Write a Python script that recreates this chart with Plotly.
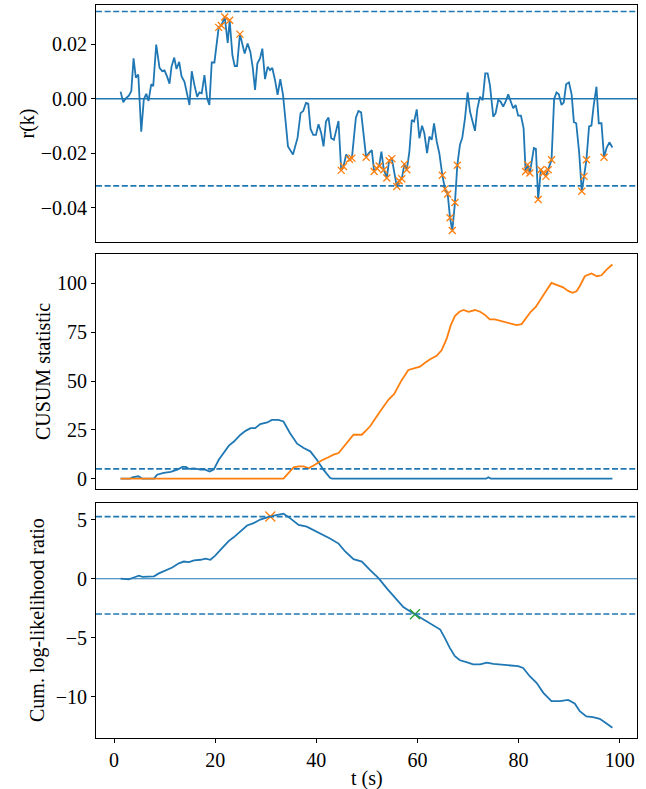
import plotly.graph_objects as go

# ---- residual autocorrelation r(k) ----
t_r = [1.28, 1.82, 2.27, 2.92, 3.40, 3.85, 4.30, 4.78, 5.37, 5.88,
       6.36, 6.81, 7.34, 7.74, 8.33, 8.98, 9.52, 9.97, 10.50, 10.96,
       11.35, 11.89, 12.34, 12.87, 13.33, 13.92, 14.91, 15.36, 15.89, 16.43,
       16.88, 17.33, 17.87, 18.40, 18.85, 19.31, 19.84, 20.69, 21.22, 21.88,
       22.47, 22.86, 23.40, 23.85, 24.32, 24.88, 25.82, 26.41, 26.95, 27.40,
       27.88, 28.33, 28.86, 29.32, 29.85, 30.37, 30.84, 31.29, 31.83, 32.34,
       32.87, 33.41, 33.86, 34.39, 35.38, 36.29, 36.88, 37.41, 37.95, 38.40,
       38.85, 39.39, 39.92, 40.43, 40.97, 41.42, 41.90, 42.41, 42.94, 43.47,
       44.38, 44.92, 45.37, 45.90, 46.55, 47.03, 47.82, 48.33, 48.86, 49.36,
       49.85, 50.38, 50.97, 51.43, 51.97, 52.42, 52.87, 53.35, 53.94, 54.39,
       54.93, 55.91, 56.37, 56.90, 57.41, 57.89, 58.40, 58.87, 59.33, 59.86,
       60.37, 60.91, 61.36, 61.90, 62.35, 62.82, 63.28, 63.81, 64.32, 64.92,
       65.45, 65.98, 66.44, 66.89, 67.42, 67.88, 68.41, 68.87, 69.40, 69.93,
       70.39, 70.92, 71.37, 71.83, 72.36, 72.89, 73.41, 73.88, 74.33, 74.99,
       75.46, 75.97, 76.45, 76.96, 77.43, 77.95, 78.42, 78.93, 79.41, 79.92,
       80.46, 80.99, 81.39, 81.78, 82.23, 83.02, 83.42, 83.87, 84.40, 84.86,
       85.39, 85.84, 86.52, 87.03, 87.50, 87.96, 88.49, 88.94, 89.40, 89.96,
       90.49, 90.94, 91.40, 91.97, 92.50, 92.95, 93.42, 93.94, 94.41, 94.87,
       95.40, 95.86, 96.39, 96.90, 97.43, 97.96, 98.56]

r_k = [0.0026, -0.0013, 0.0000, 0.0011, 0.0028, 0.0148, 0.0077, 0.0089, -0.0121, -0.0002,
       0.0018, -0.0008, 0.0053, 0.0046, 0.0199, 0.0113, 0.0101, 0.0104, 0.0080, 0.0055,
       0.0117, 0.0151, 0.0109, 0.0135, 0.0083, 0.0062, -0.0023, 0.0101, 0.0050, 0.0007,
       0.0023, 0.0020, 0.0087, 0.0001, -0.0023, 0.0133, 0.0133, 0.0262, 0.0269, 0.0300,
       0.0205, 0.0288, 0.0160, 0.0120, 0.0120, 0.0237, 0.0166, 0.0203, 0.0172, 0.0117,
       0.0032, 0.0129, 0.0148, 0.0184, 0.0072, 0.0117, 0.0105, 0.0113, 0.0068, 0.0014,
       0.0072, 0.0014, -0.0072, -0.0175, -0.0205, -0.0143, -0.0053, -0.0045, -0.0015, -0.0018,
       -0.0111, -0.0133, -0.0133, -0.0094, -0.0127, -0.0175, -0.0084, -0.0069, -0.0145, -0.0151,
       -0.0082, -0.0263, -0.0249, -0.0205, -0.0222, -0.0218, -0.0070, -0.0045, -0.0050, -0.0140,
       -0.0215, -0.0200, -0.0189, -0.0267, -0.0255, -0.0247, -0.0194, -0.0261, -0.0291, -0.0228,
       -0.0220, -0.0322, -0.0301, -0.0294, -0.0240, -0.0261, -0.0194, -0.0078, -0.0084, -0.0039,
       -0.0145, -0.0099, -0.0127, -0.0200, -0.0139, -0.0151, -0.0091, -0.0157, -0.0200, -0.0281,
       -0.0331, -0.0350, -0.0437, -0.0484, -0.0381, -0.0244, -0.0169, -0.0143, -0.0072, 0.0023,
       -0.0047, -0.0084, -0.0118, -0.0038, 0.0007, -0.0005, 0.0093, 0.0093, 0.0050, -0.0066,
       -0.0053, -0.0005, -0.0011, -0.0029, -0.0011, 0.0016, -0.0011, -0.0035, -0.0023, -0.0062,
       -0.0062, -0.0108, -0.0267, -0.0242, -0.0273, -0.0181, -0.0184, -0.0370, -0.0261, -0.0273,
       -0.0285, -0.0261, -0.0224, -0.0001, 0.0023, 0.0016, -0.0023, -0.0013, 0.0053, 0.0060,
       0.0016, -0.0086, -0.0090, -0.0195, -0.0340, -0.0285, -0.0224, -0.0102, -0.0099, -0.0023,
       0.0044, -0.0090, -0.0090, -0.0215, -0.0179, -0.0160, -0.0179]

R_BOUND = 0.032        # confidence bound for r(k)
R_FLAG = 0.021         # |r(k)| above this is flagged

# ---- two-sided CUSUM ----
t_cusum_pos = [1.28, 3.2, 3.6, 4.8, 5.6, 7.9, 8.5, 9.8, 11.2, 12.5,
               13.5, 14.2, 14.8, 15.8, 17.1, 18.0, 18.9, 19.7, 20.7, 21.7,
               22.7, 23.7, 25.0, 26.0, 27.0, 27.9, 28.9, 30.3, 31.2, 32.5,
               33.5, 34.8, 36.2, 37.5, 38.8, 40.1, 41.4, 42.7, 43.1, 73.6,
               74.0, 74.5, 98.56]
cusum_pos = [0, 0, 0.7, 1.2, 0, 0, 2.0, 3.0, 3.5, 4.6,
             6.0, 6.0, 5.0, 5.3, 4.6, 4.6, 3.6, 4.6, 9.7, 13.4,
             16.9, 19.0, 22.5, 24.5, 25.9, 25.9, 28.0, 28.8, 30.1, 30.1,
             29.3, 23.3, 17.9, 15.7, 14.0, 9.7, 4.6, 0.4, 0, 0,
             0.7, 0, 0]

t_cusum_neg = [1.28, 33.5, 35.5, 36.5, 37.5, 38.5, 39.8, 41.1, 42.4, 43.4,
               44.4, 45.7, 47.35, 49.0, 50.6, 52.6, 54.25, 55.4, 56.9, 58.2,
               59.5, 60.5, 61.5, 62.5, 63.8, 64.8, 65.8, 66.6, 67.4, 68.3,
               69.1, 70.1, 71.4, 72.4, 73.4, 74.3, 75.3, 76.6, 77.6, 78.6,
               79.6, 80.6, 81.4, 82.4, 83.4, 84.3, 85.4, 86.5, 87.6, 88.8,
               89.8, 90.7, 91.5, 92.2, 93.1, 94.4, 95.5, 96.4, 97.4, 98.56]
cusum_neg = [0, 0, 5.8, 6.3, 6.3, 5.3, 7.2, 9.4, 11.0, 12.3,
             13.1, 17.4, 22.5, 22.5, 26.7, 34.4, 40.4, 43.4, 50.6, 55.7,
             56.6, 57.4, 59.4, 61.2, 62.9, 65.9, 71.9, 78.7, 83.3, 85.5,
             86.4, 85.5, 86.4, 85.5, 83.8, 81.6, 81.6, 80.7, 80.1, 79.2,
             78.7, 79.2, 82.1, 85.5, 88.0, 91.8, 96.0, 100.3, 99.0, 98.0,
             96.2, 95.2, 96.1, 99.1, 103.7, 105.1, 103.7, 104.2, 107.1, 109.7]

CUSUM_H = 5.0

# ---- SPRT cumulative log-likelihood ratio ----
t_llr = [1.28, 2.9, 3.9, 4.9, 5.6, 6.9, 7.9, 8.85, 10.2, 11.5,
         12.8, 13.8, 14.8, 15.8, 17.1, 18.1, 19.05, 20.0, 21.4, 22.7,
         23.65, 25.0, 26.3, 27.6, 28.9, 30.9, 32.2, 33.5, 34.85, 36.5,
         38.1, 39.8, 41.4, 42.7, 44.4, 45.7, 47.35, 49.0, 50.6, 52.3,
         53.9, 55.6, 57.2, 58.5, 59.5, 61.2, 63.1, 64.5, 65.4, 66.4,
         67.4, 68.4, 69.7, 71.0, 72.4, 73.7, 75.0, 76.6, 78.3, 79.9,
         80.9, 82.2, 83.55, 84.9, 86.5, 88.2, 89.8, 91.1, 92.1, 93.4,
         94.7, 96.05, 97.4, 98.56]
llr = [0, -0.05, 0.1, 0.25, 0.15, 0.15, 0.2, 0.45, 0.7, 0.95,
       1.3, 1.45, 1.4, 1.55, 1.6, 1.7, 1.6, 1.95, 2.6, 3.2,
       3.5, 4.05, 4.5, 4.7, 5.0, 5.26, 5.4, 5.5, 5.1, 4.55,
       4.4, 4.05, 3.65, 3.4, 2.97, 2.3, 1.65, 1.45, 0.75, 0.05,
       -0.8, -1.6, -2.4, -2.75, -3.0, -3.45, -3.9, -4.3, -5.0, -5.85,
       -6.55, -6.9, -7.05, -7.25, -7.25, -7.1, -7.2, -7.25, -7.3, -7.4,
       -7.55, -8.25, -8.8, -9.65, -10.35, -10.35, -10.25, -10.55, -11.2, -11.65,
       -11.7, -11.85, -12.25, -12.6]

SPRT_UPPER = 5.25
SPRT_LOWER = -2.98

x_ticks = [0, 20, 40, 60, 80, 100]
r_ticks = [0.02, 0.00, -0.02, -0.04]
cusum_ticks = [0, 25, 50, 75, 100]
llr_ticks = [5, 0, -5, -10]

BLUE = "#1f77b4"
ORANGE = "#ff7f0e"
GREEN = "#2ca02c"
FONT = "Liberation Serif, Times New Roman, serif"
W, H = 646, 789

# flagged samples
flag_t = [t for t, v in zip(t_r, r_k) if abs(v) > R_FLAG]
flag_r = [v for v in r_k if abs(v) > R_FLAG]
i_up = next(i for i, v in enumerate(llr) if v >= SPRT_UPPER)
i_lo = next(i for i, v in enumerate(llr) if v <= SPRT_LOWER)

fig = go.Figure()

line_w = 1.8
fig.add_trace(go.Scatter(x=t_r, y=r_k, mode="lines", line=dict(color=BLUE, width=line_w),
                         xaxis="x", yaxis="y"))
fig.add_trace(go.Scatter(x=flag_t, y=flag_r, mode="markers",
                         marker=dict(symbol="x-thin", size=7, line=dict(color=ORANGE, width=1.3)),
                         xaxis="x", yaxis="y"))

fig.add_trace(go.Scatter(x=t_cusum_pos, y=cusum_pos, mode="lines",
                         line=dict(color=BLUE, width=line_w), xaxis="x2", yaxis="y2"))
fig.add_trace(go.Scatter(x=t_cusum_neg, y=cusum_neg, mode="lines",
                         line=dict(color=ORANGE, width=line_w), xaxis="x2", yaxis="y2"))

fig.add_trace(go.Scatter(x=t_llr, y=llr, mode="lines", line=dict(color=BLUE, width=line_w),
                         xaxis="x3", yaxis="y3"))
fig.add_trace(go.Scatter(x=[t_llr[i_up]], y=[llr[i_up]], mode="markers",
                         marker=dict(symbol="x-thin", size=10, line=dict(color=ORANGE, width=1.3)),
                         xaxis="x3", yaxis="y3"))
fig.add_trace(go.Scatter(x=[t_llr[i_lo]], y=[llr[i_lo]], mode="markers",
                         marker=dict(symbol="x-thin", size=10, line=dict(color=GREEN, width=1.3)),
                         xaxis="x3", yaxis="y3"))


def hline(xref, yref, y, dash=None, width=1.6):
    fig.add_shape(type="line", xref=f"{xref} domain", yref=yref, x0=0, x1=1, y0=y, y1=y,
                  line=dict(color=BLUE, width=width, dash=dash or "solid"), layer="above")


DASH = "6px,2.6px"
hline("x", "y", R_BOUND, DASH)
hline("x", "y", -R_BOUND, DASH)
hline("x", "y", 0, None, 1.6)
hline("x2", "y2", CUSUM_H, DASH)
hline("x3", "y3", SPRT_UPPER, DASH)
hline("x3", "y3", SPRT_LOWER, DASH)
hline("x3", "y3", 0, None, 1.1)

xdom = [96 / W, 637 / W]
x_range = [-3.58, 103.42]
tickfont = dict(family=FONT, size=20, color="black")


def ydom(top_px, bot_px):
    return [1 - bot_px / H, 1 - top_px / H]


axis_common = dict(showline=True, mirror=True, linecolor="black", linewidth=1,
                   showgrid=False, zeroline=False, ticks="outside", ticklen=4,
                   tickwidth=1, tickcolor="black", tickfont=tickfont, automargin=False)

layout = dict(
    width=W, height=H, margin=dict(l=0, r=0, t=0, b=0),
    paper_bgcolor="white", plot_bgcolor="white", showlegend=False,
    xaxis=dict(domain=xdom, range=x_range, anchor="y", showticklabels=False,
               **{**axis_common, "ticks": ""}),
    xaxis2=dict(domain=xdom, range=x_range, anchor="y2", showticklabels=False,
                **{**axis_common, "ticks": ""}),
    xaxis3=dict(domain=xdom, range=x_range, anchor="y3", tickvals=x_ticks,
                ticktext=[str(v) for v in x_ticks], **axis_common),
    yaxis=dict(domain=ydom(5, 242), range=[-0.0526, 0.0344], anchor="x",
               tickvals=r_ticks, ticktext=[f"{v:.2f}".replace("-", "\u2212") for v in r_ticks],
               **axis_common),
    yaxis2=dict(domain=ydom(254, 489), range=[-5.3, 115.1], anchor="x2",
                tickvals=cusum_ticks, ticktext=[str(v) for v in cusum_ticks], **axis_common),
    yaxis3=dict(domain=ydom(503, 738), range=[-13.47, 6.4], anchor="x3",
                tickvals=llr_ticks, ticktext=[str(v).replace("-", "\u2212") for v in llr_ticks],
                **axis_common),
)
fig.update_layout(**layout)

title_font = dict(family=FONT, size=20, color="black")
for text, xpx, ymid in [("r(k)", 27, (5 + 242) / 2),
                        ("CUSUM statistic", 42.5, (254 + 489) / 2),
                        ("Cum. log-likelihood ratio", 37.5, (503 + 738) / 2)]:
    fig.add_annotation(text=text, xref="paper", yref="paper", x=xpx / W, y=1 - ymid / H,
                       textangle=-90, showarrow=False, font=title_font,
                       xanchor="center", yanchor="middle")
fig.add_annotation(text="t (s)", xref="paper", yref="paper", x=(113.5 + 5.065 * 50) / W,
                   y=1 - 778 / H, showarrow=False, font=title_font,
                   xanchor="center", yanchor="middle")

fig.write_html("out.html")
